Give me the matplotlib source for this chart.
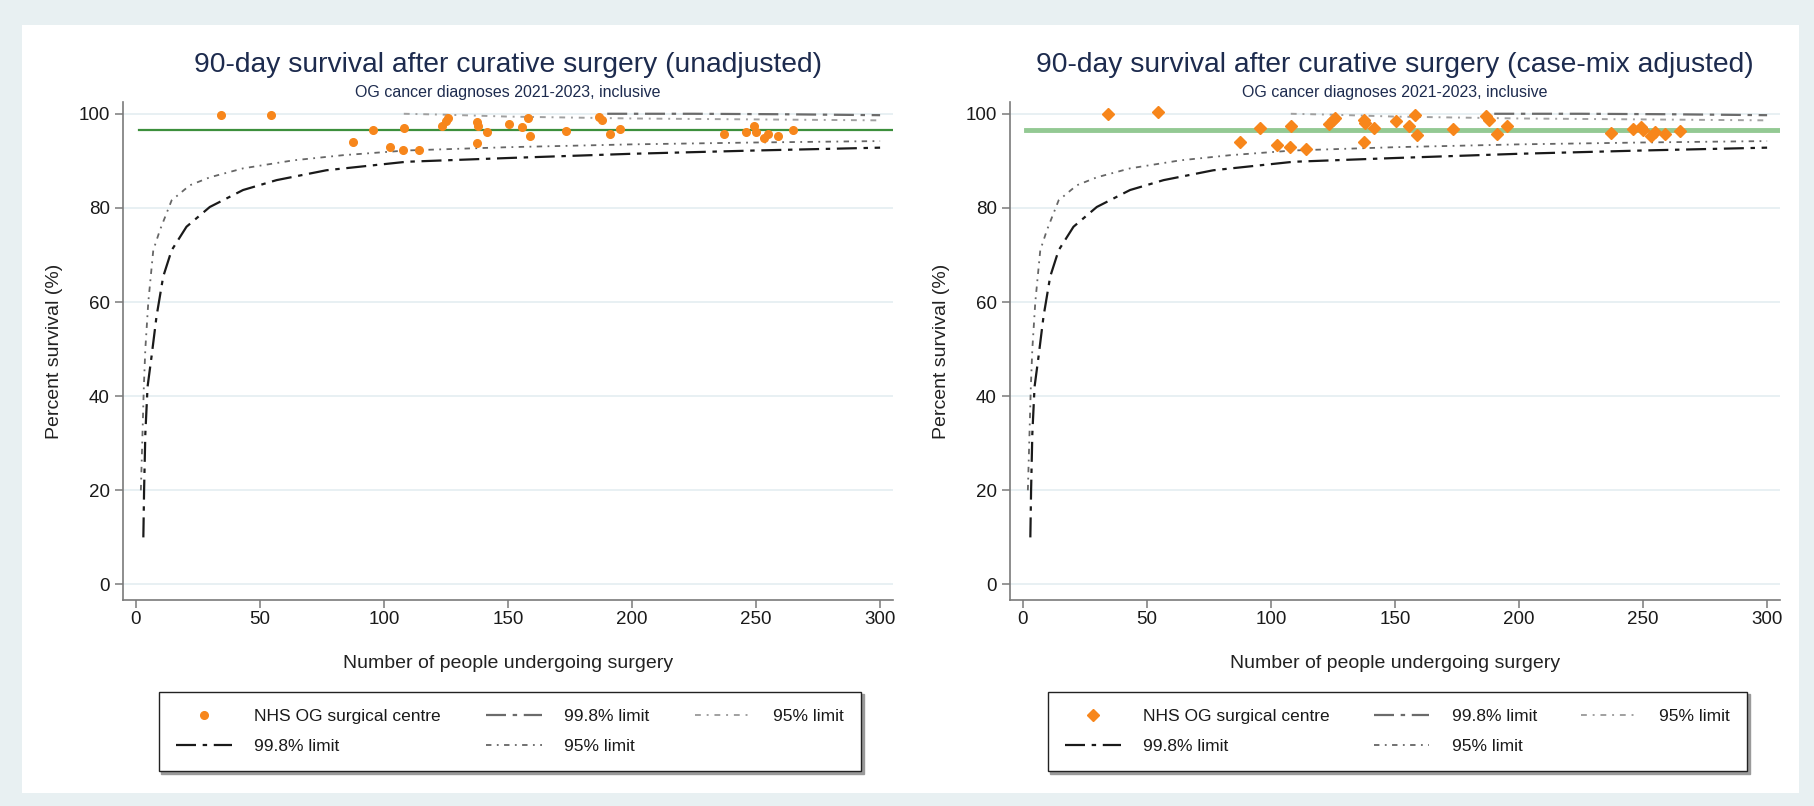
import matplotlib
matplotlib.use("Agg")
import matplotlib.pyplot as plt
from matplotlib.patches import Rectangle

plt.rcParams['font.family'] = ['Liberation Sans', 'DejaVu Sans']

# number of people undergoing surgery per centre
n_surgery = [34.5, 54.5, 87.5, 95.5, 102.5, 108, 107.5, 114, 123.5, 125, 126,
             137.5, 138, 137.5, 141.5, 150.5, 155.5, 158, 159, 173.5, 186.5,
             188, 191, 195, 237, 246, 249, 250, 253, 255, 259, 265]
# 90-day survival (%) unadjusted
surv_unadj = [99.8, 99.8, 94.1, 96.6, 92.9, 97.0, 92.3, 92.2, 97.4, 98.4, 99.1,
              98.3, 97.4, 93.8, 96.2, 97.8, 97.2, 99.2, 95.3, 96.3, 99.4,
              98.7, 95.6, 96.7, 95.6, 96.1, 97.4, 96.1, 94.9, 95.6, 95.3, 96.5]
# 90-day survival (%) case-mix adjusted
surv_adj = [100.0, 100.4, 93.9, 97.0, 93.4, 97.4, 93.0, 92.6, 97.9, 98.6, 99.2,
            98.6, 98.1, 94.0, 97.0, 98.4, 97.5, 99.8, 95.4, 96.7, 99.6,
            98.6, 95.8, 97.3, 96.0, 96.8, 97.2, 96.5, 95.2, 96.2, 95.6, 96.4]

national_avg = 96.5

# control limits
lo95_x = [2, 2.6, 3.2, 3.8, 5, 7, 9.7, 14.4, 21.7, 29.8, 43.2, 63.4, 83.5, 109, 150, 200, 250, 300]
lo95_y = [20, 31, 42, 50, 60, 71, 75.3, 81.6, 84.8, 86.5, 88.4, 90.1, 91.2, 92.2, 92.9, 93.5, 93.9, 94.2]
lo998_x = [3, 3.3, 3.8, 4.7, 6.3, 8.3, 11, 14.4, 20.4, 29.8, 43.2, 56.7, 76.8, 109, 150, 200, 250, 300]
lo998_y = [10, 20, 32, 42, 48.4, 56.9, 65.4, 71, 76, 80.2, 83.8, 85.9, 88, 89.8, 90.6, 91.5, 92.2, 92.8]
up95_x = [108, 125, 150, 175, 200, 250, 300]
up95_y = [100, 99.8, 99.4, 99.2, 99.0, 98.8, 98.6]
up998_x = [190, 225, 260, 300]
up998_y = [100, 100, 99.9, 99.7]

titles = ["90-day survival after curative surgery (unadjusted)",
          "90-day survival after curative surgery (case-mix adjusted)"]
subtitle = "OG cancer diagnoses 2021-2023, inclusive"

W, H = 1814, 806
fig = plt.figure(figsize=(W / 100, H / 100), dpi=100, facecolor='#e8f0f2')
fig.patches.append(Rectangle((22 / W, 1 - 793 / H), (1799 - 22) / W, (793 - 25) / H,
                             transform=fig.transFigure, facecolor='white',
                             edgecolor='none', zorder=-10))

title_col = '#1d2b4e'
panels = [
    dict(left=123, surv=surv_unadj, marker='o', ms=5.5, green='#3c8f3c', glw=1.6,
         title=titles[0], leg_x0=150, leg_x1=870),
    dict(left=1010, surv=surv_adj, marker='D', ms=6.5, green='#93c993', glw=3.5,
         title=titles[1], leg_x0=1039, leg_x1=1756),
]

for p in panels:
    ax = fig.add_axes([p['left'] / W, 1 - 600 / H, 770 / W, (600 - 102) / H])
    ax.set_facecolor('white')
    ax.set_xlim(-5.2, 305.2)
    ax.set_ylim(-3.3, 102.5)
    for y in range(0, 101, 20):
        ax.axhline(y, color='#e4edf1', lw=1.2, zorder=0)

    h_up998, = ax.plot(up998_x, up998_y, color='#6b6b6b', lw=1.6, dashes=(9, 3, 2, 3))
    h_up95, = ax.plot(up95_x, up95_y, color='#a0a0a0', lw=1.4, dashes=(3, 3, 1, 3))
    h_lo998, = ax.plot(lo998_x, lo998_y, color='#1a1a1a', lw=1.6, dashes=(9, 3, 2, 3))
    h_lo95, = ax.plot(lo95_x, lo95_y, color='#666666', lw=1.3, dashes=(3, 3, 1, 3))
    ax.plot([1.3, 305], [national_avg, national_avg], color=p['green'], lw=p['glw'], zorder=2)
    h_pts, = ax.plot(n_surgery, p['surv'], linestyle='none', marker=p['marker'],
                     ms=p['ms'], color='#f7861b', mec='#f7861b', zorder=3)

    ax.spines['top'].set_visible(False)
    ax.spines['right'].set_visible(False)
    for s in ['left', 'bottom']:
        ax.spines[s].set_color('#7a7a7a')
        ax.spines[s].set_linewidth(1.2)
    ax.set_xticks(range(0, 301, 50))
    ax.set_yticks(range(0, 101, 20))
    ax.tick_params(colors='#7a7a7a', labelcolor='#1a1a1a', labelsize=13.5,
                   length=6, width=1.1)
    ax.tick_params(axis='x', pad=2)
    ax.set_xlabel("Number of people undergoing surgery", fontsize=14, color='#222222',
                  labelpad=19)
    ax.set_ylabel("Percent survival (%)", fontsize=14, color='#222222', labelpad=11)

    cx = (p['left'] + 385) / W
    fig.text(cx, 1 - 65.5 / H, p['title'], ha='center', va='center', fontsize=20.3,
             color=title_col)
    fig.text(cx, 1 - 92 / H, subtitle, ha='center', va='center', fontsize=11.5,
             color=title_col)

    handles = [h_pts, h_lo998, h_up998, h_lo95, h_up95]
    labels = ["NHS OG surgical centre", "99.8% limit", "99.8% limit", "95% limit", "95% limit"]
    leg = fig.legend(handles, labels, ncol=3, loc='upper left',
                     bbox_to_anchor=(p['leg_x0'] / W, 1 - 683 / H,
                                     (p['leg_x1'] - p['leg_x0']) / W, 0),
                     bbox_transform=fig.transFigure, mode='expand',
                     fontsize=12.5, handlelength=3.2, handletextpad=1.3,
                     labelspacing=0.85, borderpad=1.0, frameon=True,
                     fancybox=False, shadow={'color': '#9a9a9a', 'alpha': 1})
    leg.get_frame().set_edgecolor('#222222')
    leg.get_frame().set_linewidth(1.0)
    for t in leg.get_texts():
        t.set_color('#1a1a1a')

fig.savefig("out.png", dpi=100, facecolor=fig.get_facecolor())
